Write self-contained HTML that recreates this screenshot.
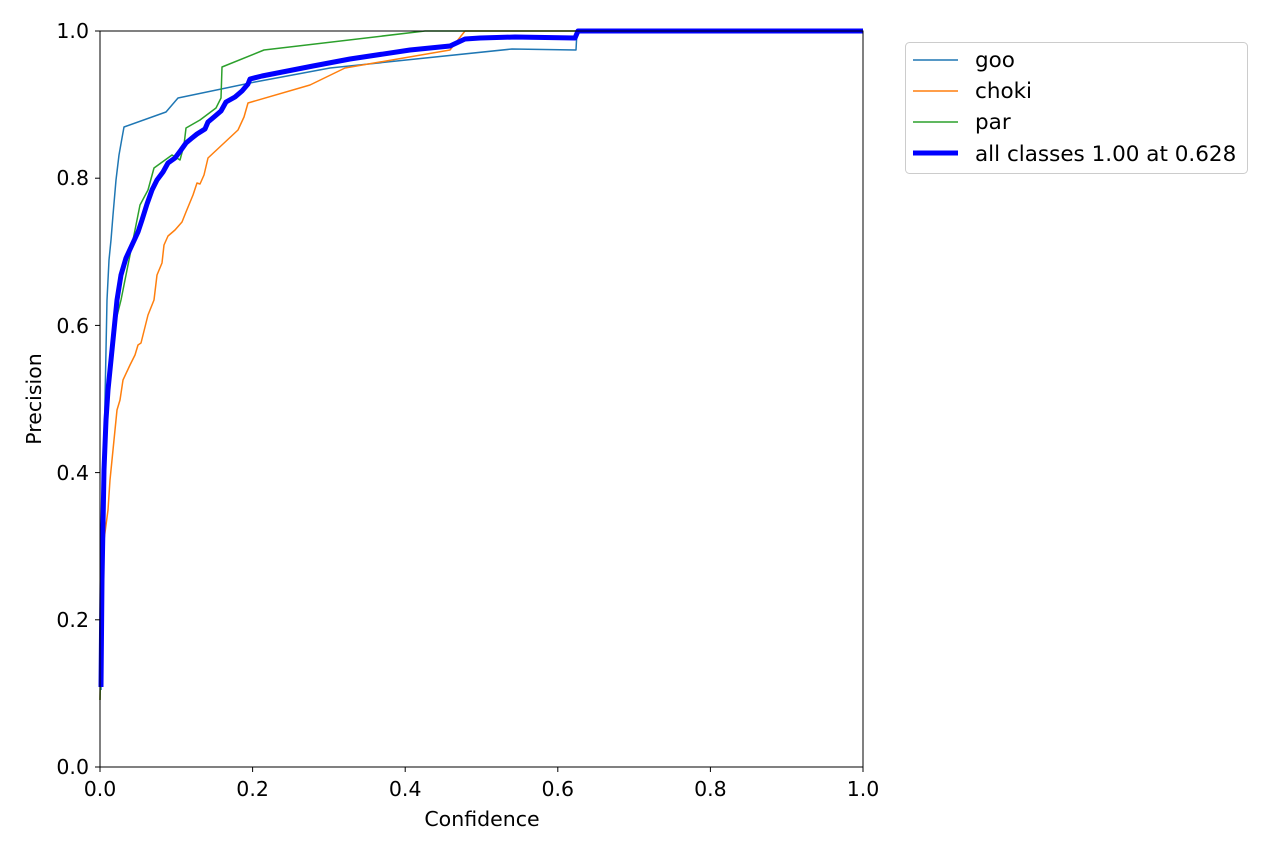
<!DOCTYPE html>
<html><head><meta charset="utf-8"><style>html,body{margin:0;padding:0;background:#fff}</style></head>
<body>
<svg width="1280" height="853" xmlns="http://www.w3.org/2000/svg" font-family="DejaVu Sans, sans-serif">
<rect width="1280" height="853" fill="#fff"/>
<g fill="none" stroke-linejoin="round">
<polyline stroke="#1f77b4" stroke-width="1.5" points="101,690 102,600 104,450 106,350 107,300 109,260 111,240 113,215 116,180 119,155 122,138 124,127 166,112 178,98 255,82 330,68 512,49 576,50 577,31 863,31"/>
<polyline stroke="#ff7f0e" stroke-width="1.5" points="100,700 102,600 104,540 108,510 110,480 114,440 117,410 120,400 123,380 130,365 135,355 138,345 141,343 148,315 154,300 157,275 162,263 164,245 168,236 175,230 182,222 186,212 193,195 197,183 200,184 204,175 208,158 238,130 244,117 248,103 310,85 345,68 450,50 465,31 863,31"/>
<polyline stroke="#2ca02c" stroke-width="1.5" points="100,700 103,500 107,400 111,360 116,320 121,300 127,270 133,240 140,205 148,190 154,168 172,155 180,160 184,145 186,128 200,120 216,108 221,98 222,67 264,50 425,31 863,31"/>
<polyline stroke="#0000ff" stroke-width="5" points="101,687 102,580 104,470 106,420 108,390 111,360 114,330 117,300 121,275 126,258 132,245 138,232 142,220 147,204 152,190 157,180 163,172 168,163 175,158 181,150 186,143 192,138 197,134 205,129 208,122 214,117 221,111 226,102 235,97 242,91 248,84 250,79 262,76 313,66 350,59 410,50 450,46 465,39 480,38 515,37 575,38 578,31 863,31"/>
</g>
<rect x="100" y="31" width="763" height="736" fill="none" stroke="#000" stroke-width="1"/>
<g stroke="#000" stroke-width="1">
<line x1="100" y1="767" x2="100" y2="772"/><line x1="252.6" y1="767" x2="252.6" y2="772"/><line x1="405.2" y1="767" x2="405.2" y2="772"/><line x1="557.8" y1="767" x2="557.8" y2="772"/><line x1="710.4" y1="767" x2="710.4" y2="772"/><line x1="863" y1="767" x2="863" y2="772"/>
<line x1="95" y1="767" x2="100" y2="767"/><line x1="95" y1="619.8" x2="100" y2="619.8"/><line x1="95" y1="472.6" x2="100" y2="472.6"/><line x1="95" y1="325.4" x2="100" y2="325.4"/><line x1="95" y1="178.2" x2="100" y2="178.2"/><line x1="95" y1="31" x2="100" y2="31"/>
</g>
<g font-size="20.5" fill="#000" text-anchor="middle">
<text x="100" y="796">0.0</text><text x="252.6" y="796">0.2</text><text x="405.2" y="796">0.4</text><text x="557.8" y="796">0.6</text><text x="710.4" y="796">0.8</text><text x="863" y="796">1.0</text>
<text x="482" y="826">Confidence</text>
</g>
<g font-size="20.5" fill="#000" text-anchor="end">
<text x="89" y="774">0.0</text><text x="89" y="627">0.2</text><text x="89" y="480">0.4</text><text x="89" y="333">0.6</text><text x="89" y="185">0.8</text><text x="89" y="38">1.0</text>
</g>
<text transform="translate(41,399) rotate(-90)" font-size="20.5" text-anchor="middle">Precision</text>
<rect x="905.5" y="42.5" width="342" height="131" rx="4" fill="#fff" stroke="#ccc"/>
<line x1="913" y1="60" x2="958" y2="60" stroke="#1f77b4" stroke-width="1.5"/>
<line x1="913" y1="91" x2="958" y2="91" stroke="#ff7f0e" stroke-width="1.5"/>
<line x1="913" y1="122" x2="958" y2="122" stroke="#2ca02c" stroke-width="1.5"/>
<line x1="913" y1="153" x2="958" y2="153" stroke="#0000ff" stroke-width="5"/>
<g font-size="21.5" fill="#000">
<text x="975" y="67">goo</text><text x="975" y="98">choki</text><text x="975" y="129">par</text><text x="975" y="161">all classes 1.00 at 0.628</text>
</g>
</svg>
</body></html>
